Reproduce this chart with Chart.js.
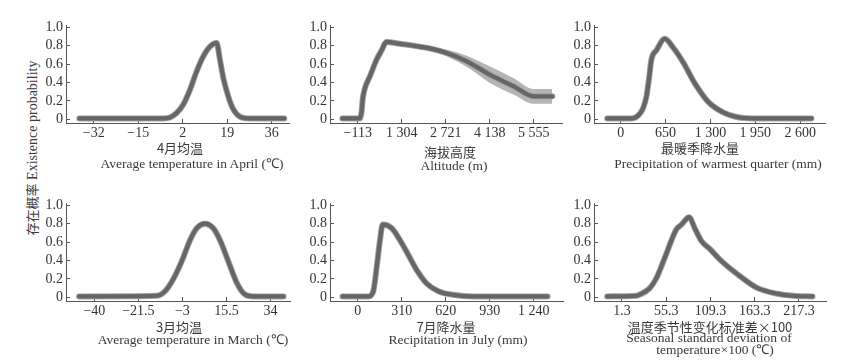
<!DOCTYPE html>
<html>
<head>
<meta charset="utf-8">
<script src="https://cdn.jsdelivr.net/npm/chart.js@4.4.0/dist/chart.umd.min.js"></script>
<style>
  body { margin: 0; width: 854px; height: 362px; background: #fff; position: relative; overflow: hidden;
         font-family: "Liberation Serif", serif; color: #3a3a3a; }
  canvas { position: absolute; }
  .t { position: absolute; transform: translate(-50%, -50%); white-space: nowrap; font-size: 13.5px; line-height: 1; }
  .zh { font-family: "Noto Sans CJK SC", sans-serif; font-size: 13px; }
  #ylab { position: absolute; left: 32px; top: 148px; transform: translate(-50%, -50%) rotate(-90deg);
          white-space: nowrap; font-size: 14px; line-height: 1; }
</style>
</head>
<body>
<div id="ylab"><span class="zh">存在概率</span> Existence probability</div>
<script>
// y axis ticks shared by all panels
const yTicks = [0, 0.2, 0.4, 0.6, 0.8, 1.0];

// 4月均温 / Average temperature in April
const aprTicks = [-32, -15, 2, 19, 36];
const aprX = [-37.5, -5.4, -2.9, -0.3, 2.2, 4.75, 7.3, 9.8, 12.4, 14.95, 16.2, 17.5, 19.4, 21.3, 23.8, 27.7, 40.8];
const aprY = [0.01, 0.01, 0.02, 0.07, 0.16, 0.32, 0.52, 0.68, 0.79, 0.83, 0.65, 0.45, 0.25, 0.11, 0.03, 0.01, 0.01];

// 海拔高度 / Altitude (with confidence band)
const altTicks = [-113, 1304, 2721, 4138, 5555];
const altX = [-610, -45, 12, 45, 119, 280, 495, 657, 800, 1246, 1674, 2200, 2750, 3394, 4167, 4895, 5555, 6150];
const altY = [0.01, 0.01, 0.09, 0.22, 0.34, 0.47, 0.65, 0.75, 0.84, 0.82, 0.80, 0.77, 0.72, 0.63, 0.48, 0.36, 0.25, 0.25];
const altHi = [0.01, 0.01, 0.09, 0.22, 0.34, 0.47, 0.65, 0.75, 0.84, 0.82, 0.80, 0.78, 0.755, 0.69, 0.57, 0.45, 0.33, 0.33];
const altLo = [0.01, 0.01, 0.09, 0.22, 0.34, 0.47, 0.65, 0.75, 0.84, 0.82, 0.80, 0.76, 0.685, 0.57, 0.39, 0.27, 0.17, 0.17];

// 最暖季降水量 / Precipitation of warmest quarter
const pwqTicks = [0, 650, 1300, 1950, 2600];
const pwqX = [-196, 155, 251, 323, 373, 411, 445, 518, 638, 759, 904, 1074, 1267, 1484, 1679, 1920, 2764];
const pwqY = [0.01, 0.01, 0.04, 0.12, 0.25, 0.45, 0.65, 0.75, 0.875, 0.78, 0.62, 0.39, 0.19, 0.075, 0.025, 0.01, 0.01];

// 3月均温 / Average temperature in March
const marTicks = [-40, -21.5, -3, 15.5, 34];
const marX = [-46.4, -13.8, -10.3, -6.8, -3.3, 0.2, 3.0, 6.5, 10, 12.8, 16.3, 19.8, 23.3, 26.8, 39.5];
const marY = [0.01, 0.017, 0.066, 0.2, 0.39, 0.62, 0.75, 0.80, 0.75, 0.62, 0.39, 0.16, 0.03, 0.01, 0.01];

// 7月降水量 / Recipitation in July
const julTicks = [0, 310, 620, 930, 1240];
const julX = [-107, 75, 110, 134, 157, 176, 240, 298, 357, 416, 486, 568, 674, 814, 1337];
const julY = [0.01, 0.01, 0.066, 0.33, 0.62, 0.79, 0.75, 0.62, 0.46, 0.295, 0.15, 0.066, 0.027, 0.01, 0.01];

// 温度季节性变化标准差×100 / Seasonal standard deviation of temperature×100
const bioTicks = [1.3, 55.3, 109.3, 163.3, 217.3];
const bioX = [-16.7, 19, 23, 35.3, 43.4, 53.6, 61.8, 67.9, 74, 83.3, 90.2, 98.4, 108.6, 120.8, 145.2, 165.6, 190, 210, 233.8];
const bioY = [0.01, 0.017, 0.03, 0.1, 0.21, 0.43, 0.62, 0.74, 0.79, 0.87, 0.75, 0.61, 0.525, 0.41, 0.23, 0.105, 0.04, 0.017, 0.01];

const pts = (xs, ys) => xs.map((x, i) => ({ x: x, y: ys[i] }));

function fmt(v) {
    let s = String(Math.abs(v));
    if (Math.abs(v) >= 1000) s = s.replace(/\B(?=(\d{3})+(?!\d))/g, ' ');
    return (v < 0 ? '\u2212' : '') + s;
}

const tickFont = { family: '"Liberation Serif", serif', size: 14 };
const axisColor = '#555';
const lineColor = '#666';
const haloColor = '#a0a0a0';
const bandColor = '#b5b5b5';

// panel layout: plot area in page pixels + axis range
const panels = [
    { left: 66, right: 289, top: 16, bottom: 123, xMin: -42.6, xMax: 42.6, ticks: aprTicks, x: aprX, y: aprY },
    { left: 330, right: 562, top: 16, bottom: 123, xMin: -1008, xMax: 6463, ticks: altTicks, x: altX, y: altY, hi: altHi, lo: altLo },
    { left: 594, right: 825, top: 16, bottom: 123, xMin: -387.5, xMax: 2960, ticks: pwqTicks, x: pwqX, y: pwqY },
    { left: 66, right: 290, top: 194, bottom: 301, xMin: -51.9, xMax: 42.2, ticks: marTicks, x: marX, y: marY },
    { left: 330, right: 563, top: 194, bottom: 301, xMin: -195, xMax: 1446, ticks: julTicks, x: julX, y: julY },
    { left: 594, right: 826, top: 194, bottom: 301, xMin: -32.8, xMax: 250.3, ticks: bioTicks, x: bioX, y: bioY }
];

function makePanel(p) {
    const padT = 6, padR = 6, yW = 40, xH = 22;
    const w = p.right - p.left + yW + padR;
    const h = p.bottom - p.top + padT + xH;
    const cv = document.createElement('canvas');
    cv.width = w; cv.height = h;
    cv.style.left = (p.left - yW) + 'px';
    cv.style.top = (p.top - padT) + 'px';
    cv.style.width = w + 'px';
    cv.style.height = h + 'px';
    document.body.appendChild(cv);

    const datasets = [
        { data: pts(p.x, p.y), borderColor: lineColor, borderWidth: 4.2 },
        { data: pts(p.x, p.y), borderColor: haloColor, borderWidth: 6 }
    ];
    if (p.hi) {
        datasets.push({ data: pts(p.x, p.hi), borderWidth: 0, backgroundColor: bandColor, fill: '+1' });
        datasets.push({ data: pts(p.x, p.lo), borderWidth: 0 });
    }

    const grid = { display: true, drawOnChartArea: false, drawTicks: true, tickLength: -4, color: axisColor, lineWidth: 1 };
    const border = { display: true, color: axisColor, width: 1 };

    new Chart(cv, {
        type: 'line',
        data: { datasets },
        options: {
            responsive: false,
            animation: false,
            devicePixelRatio: 1,
            layout: { padding: { top: padT, right: padR, left: 0, bottom: 0 }, autoPadding: false },
            plugins: { legend: { display: false }, tooltip: { enabled: false } },
            elements: {
                point: { radius: 0 },
                line: { cubicInterpolationMode: 'monotone', borderCapStyle: 'round', borderJoinStyle: 'round', fill: false }
            },
            scales: {
                x: {
                    type: 'linear', min: p.xMin, max: p.xMax,
                    afterBuildTicks: s => { s.ticks = p.ticks.map(v => ({ value: v })); },
                    afterFit: s => { s.height = xH; },
                    ticks: { callback: (v, i) => fmt(p.ticks[i]), font: tickFont, color: '#333', padding: 6, maxRotation: 0, autoSkip: false },
                    grid, border
                },
                y: {
                    min: -0.04, max: 1.02,
                    afterBuildTicks: s => { s.ticks = yTicks.map(v => ({ value: v })); },
                    afterFit: s => { s.width = yW; },
                    ticks: { callback: (v, i) => yTicks[i] === 0 ? '0' : yTicks[i].toFixed(1), font: tickFont, color: '#333', padding: 7, autoSkip: false },
                    grid, border
                }
            }
        }
    });
}

panels.forEach(makePanel);

// axis titles below each panel
const titleLines = [
    [180, 147, '4月均温', 'zh'], [192, 163.5, 'Average temperature in April (℃)', ''],
    [450, 151, '海拔高度', 'zh'], [454, 166, 'Altitude (m)', ''],
    [700, 147, '最暖季降水量', 'zh'], [718, 163.5, 'Precipitation of warmest quarter (mm)', ''],
    [179, 325.5, '3月均温', 'zh'], [193, 340, 'Average temperature in March (℃)', ''],
    [446, 325.5, '7月降水量', 'zh'], [458, 339.5, 'Recipitation in July (mm)', ''],
    [710, 325.5, '温度季节性变化标准差×100', 'zh'], [709, 337.5, 'Seasonal standard deviation of', ''],
    [715, 349.5, 'temperature×100 (℃)', '']
];
titleLines.forEach(([x, y, text, cls]) => {
    const d = document.createElement('div');
    d.className = 't ' + cls;
    d.style.left = x + 'px';
    d.style.top = y + 'px';
    d.textContent = text;
    document.body.appendChild(d);
});
</script>
</body>
</html>
